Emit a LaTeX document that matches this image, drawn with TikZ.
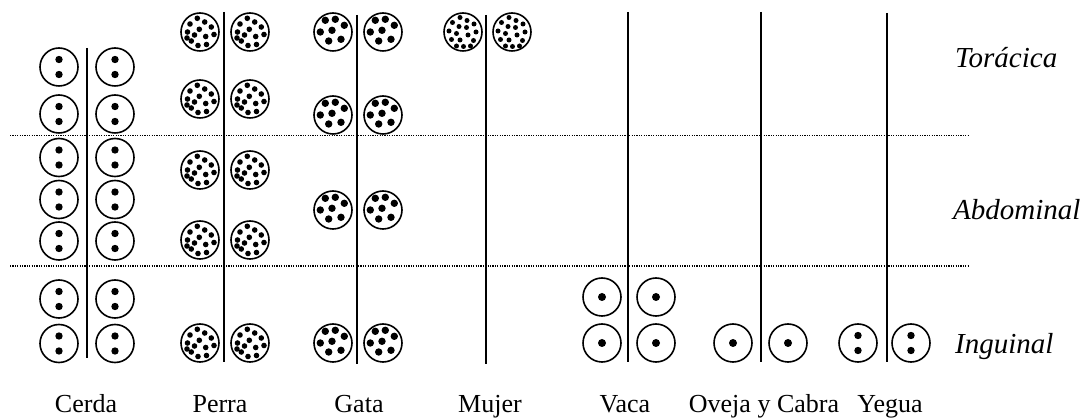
\documentclass[tikz,border=0pt]{standalone}
\usepackage{fontspec}
\setmainfont{Liberation Serif}
\begin{document}
\begin{tikzpicture}[x=1pt,y=-1pt,
  teat/.style={circle,draw,line width=1.6pt,minimum size=38pt,inner sep=0pt},
  divider/.style={line width=2pt},
  zoneline/.style={line width=1.2pt,dash pattern=on 1.2pt off 1.2pt},
  species/.style={font=\fontsize{26}{30}\selectfont,anchor=base,inner sep=0pt},
  zone/.style={font=\fontsize{29}{33}\selectfont\itshape,anchor=base west,inner sep=0pt},
  pics/one/.style={code={\node[teat] (-c) {}; \fill (0,0) circle (4pt);}},
  pics/two/.style={code={\node[teat] (-c) {}; \fill (0,-7.5) circle (3.7pt) (0,7.5) circle (3.7pt);}},
  pics/seven/.style={code={\node[teat] (-c) {};
    \foreach \a/\b in {-7.7/-11.7,2.3/-12.7,11.3/-6.7,-12.7/0,-1/-1.7,-4.3/9,8/7.3}
      \fill (\a,\b) circle (3.7pt);}},
  pics/many/.style={code={\node[teat] (-c) {};
    \foreach \a/\b in {-2.7/-13.7,-10/-8,4.7/-10,11.3/-5,-0.7/-2.7,-12.5/0,14/2.5,5.7/4.5,-5.5/3,-8.7/9,-2/13.5,6.5/12.5,-13/6}
      \fill (\a,\b) circle (2.8pt);}},
  pics/manysmall/.style={code={\node[teat] (-c) {};
    \foreach \a/\b in {-3/-14.5,-10.5/-9.5,4/-11.5,11/-8,-4/-5.5,3.5/-4.5,-14/-1,-6.5/1.5,13/0,5/3,-11.5/7.5,-3/8,10.5/8.5,-6.5/14,0.5/14.5,7.5/14}
      \fill (\a,\b) circle (2.5pt);}}
]
\useasboundingbox (0,0) rectangle (1088,419);

% zone separators
\coordinate (z1a) at (10,135.5); \coordinate (z1b) at (968,135.5);
\coordinate (z2a) at (10,266);   \coordinate (z2b) at (968,266);
\draw[zoneline] (z1a) -- (z1b);
\draw[zoneline] (z2a) -- (z2b);

% midlines
\coordinate (cerda-t) at (87,48);  \coordinate (cerda-b) at (87,358);
\coordinate (perra-t) at (224,12); \coordinate (perra-b) at (224,362);
\coordinate (gata-t) at (357,15);  \coordinate (gata-b) at (357,364);
\coordinate (mujer-t) at (486,15); \coordinate (mujer-b) at (486,364);
\coordinate (vaca-t) at (628,12);  \coordinate (vaca-b) at (628,362);
\coordinate (oveja-t) at (761,12); \coordinate (oveja-b) at (761,362);
\coordinate (yegua-t) at (887,13); \coordinate (yegua-b) at (887,362);
\foreach \s in {cerda,perra,gata,mujer,vaca,oveja,yegua}
  \draw[divider] (\s-t) -- (\s-b);

% Cerda
\foreach \y [count=\i] in {67,114,157.5,199.5,241,299,343.5} {
  \pic (cerdaL\i) at (59,\y) {two};
  \pic (cerdaR\i) at (115,\y) {two};
}
% Perra
\foreach \y [count=\i] in {32,99,170,240,343} {
  \pic (perraL\i) at (200,\y) {many};
  \pic (perraR\i) at (250,\y) {many};
}
% Gata
\foreach \y [count=\i] in {32,115,210,343} {
  \pic (gataL\i) at (333,\y) {seven};
  \pic (gataR\i) at (383,\y) {seven};
}
% Mujer
\pic (mujerL1) at (463,32) {manysmall};
\pic (mujerR1) at (512,32) {manysmall};
% Vaca
\foreach \y [count=\i] in {297,343} {
  \pic (vacaL\i) at (602,\y) {one};
  \pic (vacaR\i) at (656,\y) {one};
}
% Oveja y Cabra
\pic (ovejaL1) at (733,343) {one};
\pic (ovejaR1) at (788,343) {one};
% Yegua
\pic (yeguaL1) at (858,343) {two};
\pic (yeguaR1) at (911,343) {two};

% species labels
\node[species] (lcerda) at (86,413) {Cerda};
\node[species] (lperra) at (220,413) {Perra};
\node[species] (lgata)  at (359,413) {Gata};
\node[species] (lmujer) at (490,413) {Mujer};
\node[species] (lvaca)  at (625,413) {Vaca};
\node[species] (loveja) at (764,413) {Oveja y Cabra};
\node[species] (lyegua) at (890,413) {Yegua};

% zone labels
\node[zone] (ztor) at (955,68) {Torácica};
\node[zone] (zabd) at (953,220) {Abdominal};
\node[zone] (zing) at (955,354) {Inguinal};
\end{tikzpicture}
\end{document}
